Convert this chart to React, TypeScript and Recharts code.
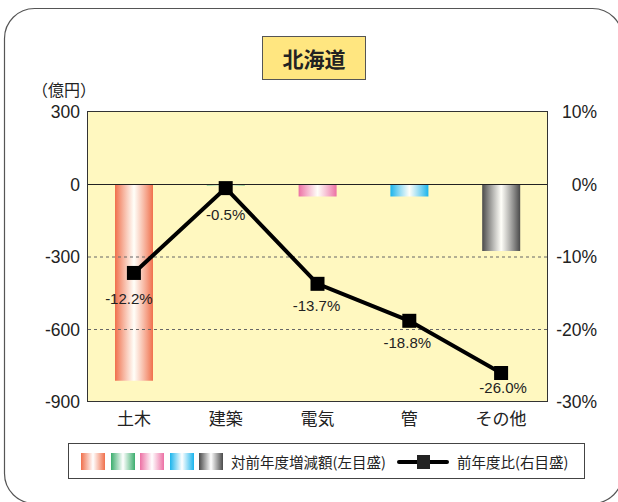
import React from 'react'
import {
  ComposedChart,
  Bar,
  Line,
  Cell,
  XAxis,
  YAxis,
  CartesianGrid,
  ReferenceLine,
  LabelList,
} from 'recharts'

const categories = ['土木', '建築', '電気', '管', 'その他']
const changeAmount = [-812, -4, -50, -50, -275]
const yoyRatio = [-12.2, -0.5, -13.7, -18.8, -26.0]
const leftTicks = [300, 0, -300, -600, -900]
const rightTicks = [10, 0, -10, -20, -30]
const barColors = ['#f0704c', '#3cae6e', '#ec70a4', '#1ab4ec', '#4a4a4a']

// how far below each point its label sits (the source nudges them by hand)
const labelDrop = [26, 27, 22, 22, 15]
const labelShift = [-5, 0, -1, -2, 2]

const FONT = "'Liberation Sans', 'Noto Sans CJK JP', sans-serif"
const JP = "'Noto Sans CJK JP', sans-serif"

const data = categories.map((name, i) => ({
  name,
  amount: changeAmount[i],
  ratio: yoyRatio[i],
}))

const SquareDot = (props: any) => {
  const { cx, cy } = props
  if (cx == null || cy == null) return null
  return <rect x={cx - 7} y={cy - 7} width={14} height={14} fill="#000" />
}

const RatioLabel = (props: any) => {
  const { x, y, value, index } = props
  return (
    <text
      x={x + labelShift[index]}
      y={y + labelDrop[index] + 5}
      textAnchor="middle"
      fontSize={15}
      fill="#222"
      fontFamily={FONT}
    >
      {`${Number(value).toFixed(1)}%`}
    </text>
  )
}

const RightTick = (props: any) => {
  const { y, payload } = props
  return (
    <text x={597} y={y} dy={6} textAnchor="end" fontSize={17.5} fill="#222" fontFamily={FONT}>
      {`${payload.value}%`}
    </text>
  )
}

export default function App() {
  return (
    <div style={{ position: 'fixed', left: 0, top: 0, width: 618, height: 502, overflow: 'hidden', background: '#fff', fontFamily: JP }}>
      <div style={{ position: 'absolute', left: 262, top: 36, width: 102, height: 42, background: '#ffe680', border: '1px solid #555', display: 'flex', alignItems: 'center', justifyContent: 'center', fontSize: 21, fontWeight: 700, color: '#222' }}>
        北海道
      </div>
      <div style={{ position: 'absolute', left: 32, top: 77, fontSize: 16, color: '#222', whiteSpace: 'nowrap' }}>（億円）</div>

      <div style={{ position: 'absolute', left: 0, top: 0 }}>
        <ComposedChart
          width={618}
          height={502}
          data={data}
          margin={{ top: 112, right: 0, bottom: 70, left: 0 }}
          barCategoryGap={27}
        >
          <defs>
            {barColors.map((c, i) => (
              <linearGradient key={i} id={`grad${i}`} x1="0" y1="0" x2="1" y2="0">
                <stop offset="0%" stopColor={c} />
                <stop offset="50%" stopColor="#fff" stopOpacity={0.9} />
                <stop offset="100%" stopColor={c} />
              </linearGradient>
            ))}
          </defs>
          <CartesianGrid horizontal={false} vertical={false} fill="#fff8c0" />
          <XAxis
            dataKey="name"
            axisLine={false}
            tickLine={false}
            height={30}
            tick={{ fill: '#222', fontSize: 17, fontFamily: JP }}
            tickMargin={5}
          />
          <YAxis
            yAxisId="left"
            width={88}
            domain={[-900, 300]}
            ticks={leftTicks}
            axisLine={false}
            tickLine={false}
            interval={0}
            tick={{ fill: '#222', fontSize: 17.5, fontFamily: FONT }}
          />
          <YAxis
            yAxisId="right"
            orientation="right"
            width={71}
            domain={[-30, 10]}
            ticks={rightTicks}
            axisLine={false}
            tickLine={false}
            interval={0}
            tick={<RightTick />}
          />
          <ReferenceLine yAxisId="left" y={-300} stroke="#666" strokeDasharray="3 3" />
          <ReferenceLine yAxisId="left" y={-600} stroke="#666" strokeDasharray="3 3" />
          <Bar yAxisId="left" dataKey="amount" isAnimationActive={false}>
            {data.map((d, i) => (
              <Cell key={d.name} fill={`url(#grad${i})`} />
            ))}
          </Bar>
          <ReferenceLine yAxisId="left" y={0} stroke="#222" strokeWidth={1} />
          <Line
            yAxisId="right"
            dataKey="ratio"
            stroke="#000"
            strokeWidth={4}
            dot={<SquareDot />}
            activeDot={false}
            isAnimationActive={false}
          >
            <LabelList dataKey="ratio" content={<RatioLabel />} />
          </Line>
        </ComposedChart>
      </div>

      <div style={{ position: 'absolute', left: 87, top: 111, width: 459, height: 289, border: '1px solid #333', pointerEvents: 'none' }} />

      <div style={{ position: 'absolute', left: 68, top: 443, width: 515, height: 34, border: '1.5px solid #444', background: '#fff' }}>
        {barColors.map((c, i) => (
          <div
            key={c}
            style={{
              position: 'absolute',
              left: 12 + i * 29.5,
              top: 9,
              width: 24,
              height: 17,
              background: `linear-gradient(to right, ${c}, #fff, ${c})`,
            }}
          />
        ))}
        <div style={{ position: 'absolute', left: 162, top: 7, fontSize: 14.5, color: '#222', whiteSpace: 'nowrap' }}>
          対前年度増減額(左目盛)
        </div>
        <svg style={{ position: 'absolute', left: 328, top: 9 }} width={52} height={18}>
          <line x1={2} y1={9} x2={50} y2={9} stroke="#000" strokeWidth={4} strokeLinecap="round" />
          <rect x={20} y={2} width={13} height={14} fill="#222" />
        </svg>
        <div style={{ position: 'absolute', left: 388, top: 7, fontSize: 14.5, color: '#222', whiteSpace: 'nowrap' }}>
          前年度比(右目盛)
        </div>
      </div>

      <svg width={618} height={502} style={{ position: 'absolute', left: 0, top: 0, pointerEvents: 'none' }}>
        <rect x={4.5} y={8.5} width={618} height={495} rx={30} fill="none" stroke="#555" strokeWidth={1.2} />
      </svg>
    </div>
  )
}
